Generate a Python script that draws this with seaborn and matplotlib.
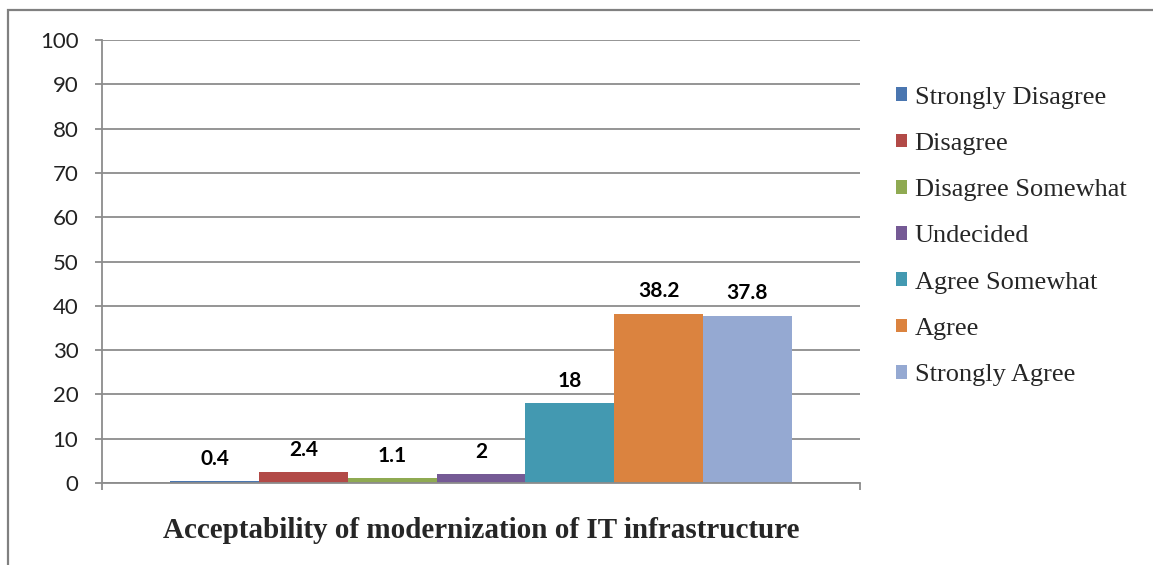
import pandas as pd
import matplotlib
matplotlib.use("Agg")
import matplotlib.pyplot as plt
import seaborn as sns
from matplotlib.patches import Rectangle

# data
CATEGORY = "Acceptability of modernization of IT infrastructure"
RESPONSES = [
    "Strongly Disagree", "Disagree", "Disagree Somewhat", "Undecided",
    "Agree Somewhat", "Agree", "Strongly Agree",
]
PERCENTS = [0.4, 2.4, 1.1, 2, 18, 38.2, 37.8]
VALUE_LABELS = ["0.4", "2.4", "1.1", "2", "18", "38.2", "37.8"]
Y_TICKS = [0, 10, 20, 30, 40, 50, 60, 70, 80, 90, 100]

COLORS = ["#4A76B0", "#B24A47", "#8FAA52", "#755A95",
          "#4399B1", "#DB833F", "#95A9D2"]
GRID = "#8C8C8C"

sns.set_theme(style="white")
plt.rcParams["font.family"] = ["Lato", "DejaVu Sans"]

df = pd.DataFrame({
    "category": [CATEGORY] * len(RESPONSES),
    "response": RESPONSES,
    "percent": PERCENTS,
})

fig = plt.figure(figsize=(11.53, 5.65), dpi=100)
ax = fig.add_axes([102 / 1153, 1 - 483 / 565, (860 - 102) / 1153, (483 - 40) / 565])

sns.barplot(data=df, x="category", y="percent", hue="response",
            hue_order=RESPONSES, palette=COLORS, width=0.82,
            saturation=1, edgecolor="none", linewidth=0, ax=ax, legend=False)

for cont, lab in zip(ax.containers, VALUE_LABELS):
    ax.bar_label(cont, labels=[lab], padding=9, fontsize=15,
                 fontweight="bold", color="black")

# axes styling, excel-like
ax.set_xlim(-0.5, 0.5)
ax.set_ylim(0, 100)
ax.set_yticks(Y_TICKS)
ax.set_xticks([-0.5, 0.5])
ax.set_xticklabels([])
ax.yaxis.grid(True, color=GRID, linewidth=1.3)
ax.set_axisbelow(True)
for side in ("top", "right"):
    ax.spines[side].set_visible(False)
for side in ("left", "bottom"):
    ax.spines[side].set_color(GRID)
    ax.spines[side].set_linewidth(1.3)
ax.tick_params(axis="both", direction="out", length=5, width=1.3,
               color=GRID, labelsize=16, labelcolor="#222222",
               left=True, bottom=True)
ax.tick_params(axis="y", pad=12)

ax.set_ylabel("")
ax.set_xlabel(CATEGORY, fontsize=21, fontweight="bold",
              family="Liberation Serif", labelpad=16)

handles = [Rectangle((0, 0), 1, 1, facecolor=c, edgecolor="none") for c in COLORS]
fig.legend(handles, RESPONSES, loc="upper left",
           bbox_to_anchor=(885 / 1153, 1 - 76 / 565),
           frameon=False, prop={"family": "Liberation Serif", "size": 19},
           handlelength=0.42, handleheight=0.42, handletextpad=0.3,
           labelspacing=0.92, borderaxespad=0)

# outer chart border (cut by the image edge on the right and bottom)
fig.patches.append(Rectangle((8 / 1153, -0.1), 1.2, 1 - 10 / 565 + 0.1,
                             transform=fig.transFigure, fill=False,
                             edgecolor="#808080", linewidth=1.6))

fig.savefig("out.png", dpi=100)
